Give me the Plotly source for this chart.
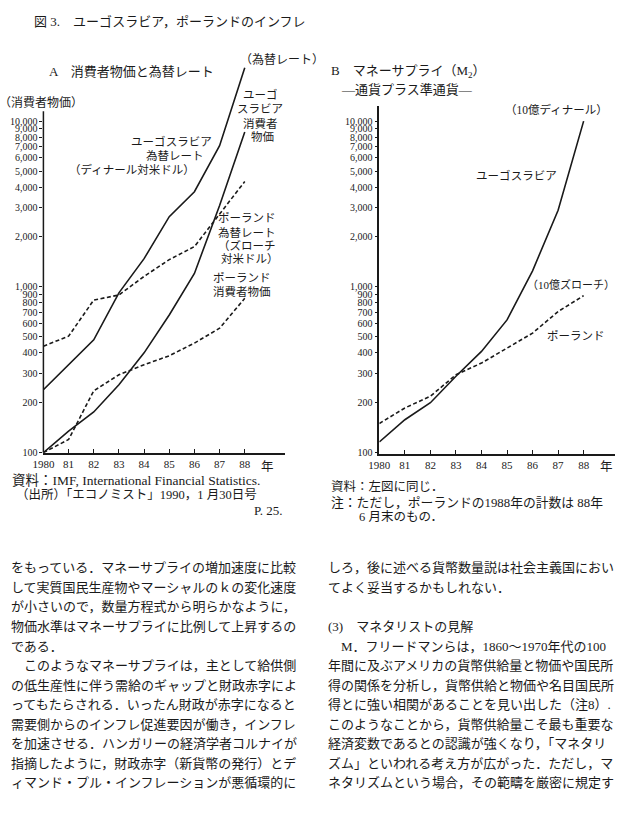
import plotly.graph_objects as go

W, H = 618, 814

# ---------------- data ----------------
years = [1980, 1981, 1982, 1983, 1984, 1985, 1986, 1987, 1988]
year_labels = ["1980", "81", "82", "83", "84", "85", "86", "87", "88"]

# Chart A: consumer prices & exchange rates (index / rate, log scale)
yugo_fx = [240, 339, 479, 920, 1480, 2650, 3750, 7100, 21000]
yugo_cpi = [100, 135, 176, 257, 400, 677, 1205, 3100, 8600]
pol_fx = [439, 504, 833, 893, 1157, 1460, 1750, 2760, 4320]
pol_cpi = [100, 120, 236, 295, 339, 384, 458, 563, 853]

# Chart B: money supply M2
yugo_m2 = [116, 158, 200, 289, 408, 632, 1250, 2900, 10000]
pol_m2 = [150, 186, 219, 295, 347, 427, 526, 710, 885]

y_ticks = [100, 200, 300, 400, 500, 600, 700, 800, 900,
           1000, 2000, 3000, 4000, 5000, 6000, 7000, 8000, 9000, 10000]
y_ticktext = ["100", "200", "300", "400", "500", "600", "700", "800", "900",
              "1,000", "2,000", "3,000", "4,000", "5,000", "6,000", "7,000",
              "8,000", "9,000", "10,000"]

left_text = [
    "をもっている．マネーサプライの増加速度に比較",
    "して実質国民生産物やマーシャルのｋの変化速度",
    "が小さいので，数量方程式から明らかなように，",
    "物価水準はマネーサプライに比例して上昇するの",
    "である．",
    "　このようなマネーサプライは，主として給供側",
    "の低生産性に伴う需給のギャップと財政赤字によ",
    "ってもたらされる．いったん財政が赤字になると",
    "需要側からのインフレ促進要因が働き，インフレ",
    "を加速させる．ハンガリーの経済学者コルナイが",
    "指摘したように，財政赤字（新貨幣の発行）とデ",
    "ィマンド・プル・インフレーションが悪循環的に",
]
right_text = [
    "しろ，後に述べる貨幣数量説は社会主義国におい",
    "てよく妥当するかもしれない．",
    "",
    "(3)　マネタリストの見解",
    "　M．フリードマンらは，1860～1970年代の100",
    "年間に及ぶアメリカの貨幣供給量と物価や国民所",
    "得の関係を分析し，貨幣供給と物価や名目国民所",
    "得とに強い相関があることを見い出した（注8）.",
    "このようなことから，貨幣供給量こそ最も重要な",
    "経済変数であるとの認識が強くなり，「マネタリ",
    "ズム」といわれる考え方が広がった．ただし，マ",
    "ネタリズムという場合，その範疇を厳密に規定す",
]

# ---------------- helpers ----------------
def px(x):
    return x / W

def py(y):
    return 1 - y / H

SERIF = "Liberation Serif, Noto Sans CJK JP, serif"
INK = "#1a1a1a"

annotations = []

def txt(s, x, y, size=12, xanchor="center", yanchor="middle"):
    annotations.append(dict(
        text=s, x=px(x), y=py(y), xref="paper", yref="paper",
        xanchor=xanchor, yanchor=yanchor, showarrow=False,
        font=dict(family=SERIF, size=size, color=INK),
        borderpad=0,
    ))

fig = go.Figure()

solid = dict(color=INK, width=1.6)
dashed = dict(color=INK, width=1.6, dash="4px,2.5px")

fig.add_trace(go.Scatter(x=years, y=yugo_fx, mode="lines", line=solid, xaxis="x", yaxis="y"))
fig.add_trace(go.Scatter(x=years, y=yugo_cpi, mode="lines", line=solid, xaxis="x", yaxis="y"))
fig.add_trace(go.Scatter(x=years, y=pol_fx, mode="lines", line=dashed, xaxis="x", yaxis="y"))
fig.add_trace(go.Scatter(x=years, y=pol_cpi, mode="lines", line=dashed, xaxis="x", yaxis="y"))
fig.add_trace(go.Scatter(x=years, y=yugo_m2, mode="lines", line=solid, xaxis="x2", yaxis="y2"))
fig.add_trace(go.Scatter(x=years, y=pol_m2, mode="lines", line=dashed, xaxis="x2", yaxis="y2"))

PPD = 167.0  # pixels per decade
def logrange(y_bottom_px, y_top_px, y100=456):
    return [2 + (y100 - y_bottom_px) / PPD, 2 + (y100 - y_top_px) / PPD]

xaxis_common = dict(
    tickmode="array", tickvals=years, ticktext=year_labels,
    ticks="inside", ticklen=4, tickwidth=1.2, tickcolor=INK,
    showline=True, linecolor=INK, linewidth=1.5,
    showgrid=False, zeroline=False,
    tickfont=dict(family=SERIF, size=11, color=INK),
)
yaxis_common = dict(
    type="log", tickmode="array", tickvals=y_ticks, ticktext=y_ticktext,
    ticks="outside", ticklen=3, tickwidth=1.2, tickcolor=INK,
    showgrid=False, zeroline=False,
    tickfont=dict(family=SERIF, size=10, color=INK),
)

A_top, A_bot = 67, 456
B_top, B_bot = 107, 457

fig.update_layout(
    width=W, height=H,
    margin=dict(l=0, r=0, t=0, b=0),
    paper_bgcolor="white", plot_bgcolor="rgba(0,0,0,0)",
    showlegend=False,
    xaxis=dict(domain=[px(33), px(279)], range=[1980, 1989.6], anchor="y", **xaxis_common),
    yaxis=dict(domain=[py(A_bot), py(A_top)], range=logrange(A_bot, A_top), anchor="x",
               showline=False, **yaxis_common),
    yaxis3=dict(type="log", overlaying="y", side="right", anchor="x",
                range=logrange(A_bot, A_top), tickmode="array", tickvals=y_ticks,
                showticklabels=False, ticks="inside", ticklen=4, tickwidth=1.2, tickcolor=INK,
                showline=True, linecolor=INK, linewidth=1.5, showgrid=False, zeroline=False),
    xaxis2=dict(domain=[px(375), px(615)], range=[1980, 1989.23], anchor="y2", **xaxis_common),
    yaxis2=dict(domain=[py(B_bot), py(B_top)], range=logrange(B_bot, B_top), anchor="x2",
                showline=True, linecolor=INK, linewidth=1.5, **yaxis_common),
)

# left axis line of chart A (shorter than the right one)
fig.add_shape(type="line", xref="paper", yref="paper",
              x0=px(33), x1=px(33), y0=py(A_bot), y1=py(112),
              line=dict(color=INK, width=1.5))

# ---------------- texts ----------------
txt("図 3.　ユーゴスラビア，ポーランドのインフレ", 22, 22, 13, xanchor="left")

# chart A
txt("A　消費者物価と為替レート", 38, 72, 13, xanchor="left")
txt("（為替レート）", 276, 60, 12)
txt("（消費者物価）", 74, 103, 12, xanchor="right")
txt("ユーゴスラビア", 163, 143, 11.5)
txt("為替レート", 167, 157, 11.5)
txt("（ディナール対米ドル）", 123, 171, 11.5)
txt("ユーゴ", 254, 95, 11.5)
txt("スラビア", 254, 110, 11.5)
txt("消費者", 254, 124, 11.5)
txt("物価", 256, 138, 11.5)
txt("ポーランド", 240, 220, 11.5)
txt("為替レート", 240, 234, 11.5)
txt("（ズローチ", 240, 247, 11.5)
txt("対米ドル）", 243, 261, 11.5)
txt("ポーランド", 235, 280, 11.5)
txt("消費者物価", 235, 294, 11.5)
txt("年", 261, 470, 12.5)

txt("資料：IMF, International Financial Statistics.", 0, 484, 13.5, xanchor="left")
txt("（出所）「エコノミスト」1990，1 月30日号", 4, 499, 12.5, xanchor="left")
txt("P. 25.", 278, 514, 13, xanchor="right")

# chart B
txt("B　マネーサプライ（M<sub>2</sub>）", 325, 72, 13, xanchor="left")
txt("―通貨プラス準通貨―", 335, 90, 13, xanchor="left")
txt("（10億ディナール）", 555, 110, 11.5)
txt("ユーゴスラビア", 515, 177, 11.5)
txt("（10億ズローチ）", 570, 287, 11)
txt("ポーランド", 575, 338, 11.5)
txt("年", 606, 470, 12.5)

txt("資料：左図に同じ．", 325, 490, 12.5, xanchor="left")
txt("注：ただし，ポーランドの1988年の計数は 88年", 325, 506, 12.8, xanchor="left")
txt("6 月末のもの．", 353, 521, 12.5, xanchor="left")

# body text
for i, line in enumerate(left_text):
    if line:
        txt(line, -1, 572 + i * 19.7, 13, xanchor="left")
for i, line in enumerate(right_text):
    if line:
        txt(line, 322, 572 + i * 19.7, 13, xanchor="left")

fig.update_layout(annotations=annotations)

fig.write_html("out.html")
